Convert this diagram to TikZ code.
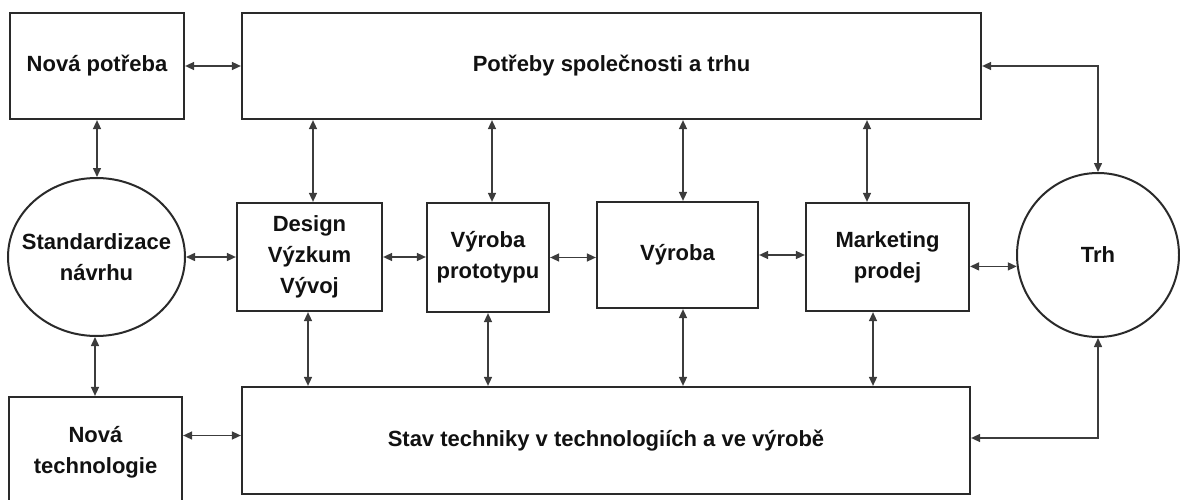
\documentclass[tikz,border=0pt]{standalone}
\usepackage{fontspec}
\setmainfont{Liberation Sans}
\usetikzlibrary{arrows.meta,shapes.geometric}
\definecolor{boxline}{HTML}{2A2A2A}
\definecolor{arrline}{HTML}{3C3C3C}
\definecolor{txt}{HTML}{111111}
\tikzset{
  x=1pt, y=-1pt,
  lbl/.style={font=\fontsize{22}{31}\selectfont\bfseries, text=txt, align=center, inner sep=0pt},
  blk/.style={lbl, draw=boxline, line width=2.2pt, rectangle, fill=white},
  rnd/.style={draw=boxline, line width=2pt, ellipse, fill=white, inner sep=0pt},
  arr/.style={draw=arrline, line width=1.5pt,
    {Triangle[length=9pt,width=8pt]}-{Triangle[length=9pt,width=8pt]}},
}
\begin{document}
\begin{tikzpicture}
\useasboundingbox (0,0) rectangle (1180,500);

% blocks
\node[blk, minimum width=174, minimum height=106] (np)   at (97,66)      {Nová potřeba};
\node[blk, minimum width=739, minimum height=106] (pot)  at (611.5,66)   {Potřeby společnosti a trhu};
\node[rnd, minimum width=177, minimum height=158,
      label={[lbl]center:Standardizace\\návrhu}]  (std)  at (96.5,257)   {};
\node[blk, minimum width=173, minimum height=110] (nt)   at (95.5,452)   {Nová\\technologie};
\node[blk, minimum width=145, minimum height=108] (des)  at (309.5,257)  {Design\\Výzkum\\Vývoj};
\node[blk, minimum width=122, minimum height=109] (vp)   at (488,257.5)  {Výroba\\prototypu};
\node[blk, minimum width=161, minimum height=106] (vyr)  at (677.5,255)  {Výroba};
\node[blk, minimum width=163, minimum height=108] (mkt)  at (887.5,257)  {Marketing\\prodej};
\node[rnd, minimum width=162, minimum height=164,
      label={[lbl]center:Trh}]                    (trh)  at (1098,255)   {};
\node[blk, minimum width=728, minimum height=107] (stav) at (606,440.5)  {Stav techniky v technologiích a ve výrobě};

% left column
\draw[arr] (np.east) -- (pot.west);
\draw[arr] (np.south) -- (np.south |- std.north);
\draw[arr] ([xshift=-1.5]std.south) -- ([xshift=-1.5]std.south |- nt.north);
\draw[arr] (std.east) -- (des.west);
\draw[arr] ([yshift=5]nt.east |- stav.west) -- ([yshift=5]stav.west);

% chain of activities
\draw[arr] (des.east) -- (des.east -| vp.west);
\draw[arr] (vp.east) -- (vp.east -| vyr.west);
\draw[arr] (vyr.east) -- (vyr.east -| mkt.west);
\draw[arr] (mkt.east |- trh.188) -- (trh.188);

% links up to the market needs
\draw[arr] ([xshift=3.5]des.north) -- ([xshift=3.5]des.north |- pot.south);
\draw[arr] ([xshift=4]vp.north)    -- ([xshift=4]vp.north |- pot.south);
\draw[arr] ([xshift=5.5]vyr.north) -- ([xshift=5.5]vyr.north |- pot.south);
\draw[arr] ([xshift=-20.5]mkt.north) -- ([xshift=-20.5]mkt.north |- pot.south);

% links down to the state of technology
\draw[arr] ([xshift=-1.5]des.south) -- ([xshift=-1.5]des.south |- stav.north);
\draw[arr] (vp.south)  -- (vp.south |- stav.north);
\draw[arr] ([xshift=5.5]vyr.south) -- ([xshift=5.5]vyr.south |- stav.north);
\draw[arr] ([xshift=-14.5]mkt.south) -- ([xshift=-14.5]mkt.south |- stav.north);

% market feedback loops
\draw[arr] (pot.east) -| (trh.north);
\draw[arr] ([yshift=2.5]stav.east) -| (trh.south);
\end{tikzpicture}
\end{document}
